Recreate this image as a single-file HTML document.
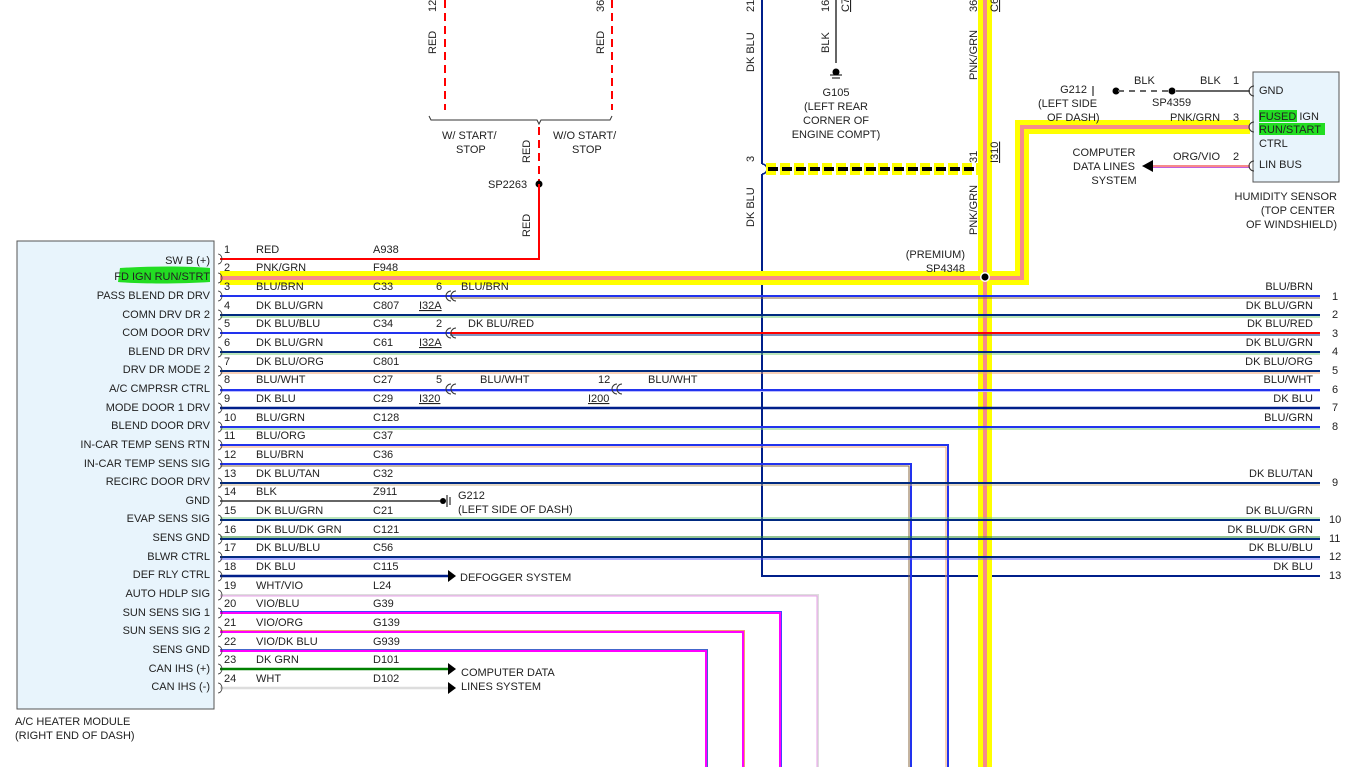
<!DOCTYPE html>
<html><head><meta charset="utf-8"><style>
html,body{margin:0;padding:0;background:#fff;}
svg{display:block;font-family:"Liberation Sans",sans-serif;font-size:11px;fill:#222;}
text{fill:#222;}
</style></head><body>
<svg width="1347" height="767" viewBox="0 0 1347 767" xmlns="http://www.w3.org/2000/svg">
<rect x="17" y="241" width="197" height="468" fill="#e8f4fc" stroke="#555" stroke-width="1"/>
<rect x="1253" y="72" width="86" height="110" fill="#e8f4fc" stroke="#555" stroke-width="1"/>

<g stroke="#f00" stroke-width="2" stroke-dasharray="8,5" fill="none">
<line x1="445" y1="0" x2="445" y2="110"/>
<line x1="612" y1="0" x2="612" y2="110"/>
<line x1="539" y1="127" x2="539" y2="184"/>
</g>
<path d="M429,116 l2,4 H537 l2,4 l2,-4 H610 l2,-4" fill="none" stroke="#333" stroke-width="1"/>
<g font-size="11">
<text x="436" y="54" transform="rotate(-90 436 54)">RED</text>
<text x="436" y="12" transform="rotate(-90 436 12)">12</text>
<text x="604" y="54" transform="rotate(-90 604 54)">RED</text>
<text x="604" y="12" transform="rotate(-90 604 12)">36</text>
<text x="442" y="139">W/ START/</text><text x="456" y="153">STOP</text>
<text x="553" y="139">W/O START/</text><text x="572" y="153">STOP</text>
<text x="530" y="163" transform="rotate(-90 530 163)">RED</text>
<text x="488" y="188">SP2263</text>
<text x="530" y="237" transform="rotate(-90 530 237)">RED</text>
</g>
<circle cx="539" cy="184" r="3.5" fill="#000"/>
<polyline points="220,259 539,259 539,184" fill="none" stroke="#f00" stroke-width="2"/>

<path d="M762,0 V164 M762,174 V576 H1320" fill="none" stroke="#001f8a" stroke-width="2"/>
<path d="M762,164 a5,5 0 0 1 0,10" fill="none" stroke="#001f8a" stroke-width="1.5"/>
<text x="754" y="72" transform="rotate(-90 754 72)">DK BLU</text>
<text x="754" y="12" transform="rotate(-90 754 12)">21</text>
<text x="754" y="162" transform="rotate(-90 754 162)">3</text>
<text x="754" y="227" transform="rotate(-90 754 227)">DK BLU</text>
<line x1="766" y1="169" x2="990" y2="169" stroke="#ffff00" stroke-width="12" stroke-dasharray="10,4"/>
<line x1="768" y1="169" x2="990" y2="169" stroke="#000" stroke-width="4" stroke-dasharray="10,4"/>

<line x1="836" y1="0" x2="836" y2="63" stroke="#666" stroke-width="2"/>
<circle cx="836" cy="72" r="3.5" fill="#000"/>
<line x1="830" y1="75" x2="842" y2="75" stroke="#000"/>
<line x1="832" y1="78" x2="840" y2="78" stroke="#000"/>
<text x="829" y="53" transform="rotate(-90 829 53)">BLK</text>
<text x="829" y="12" transform="rotate(-90 829 12)">16</text>
<text x="849" y="12" transform="rotate(-90 849 12)" text-decoration="underline">C7</text>
<g text-anchor="middle"><text x="836" y="96">G105</text><text x="836" y="110">(LEFT REAR</text><text x="836" y="124">CORNER OF</text><text x="836" y="138">ENGINE COMPT)</text></g>

<path d="M220,278 H985 M985,0 V767 M985,278 H1022 V127 H1250" fill="none" stroke="#ffff00" stroke-width="14"/>
<path d="M220,278 H985 M985,0 V767 M985,278 H1022 V127 H1250" fill="none" stroke="#f78a8a" stroke-width="4"/>
<circle cx="985" cy="277" r="5" fill="#fff"/><circle cx="985" cy="277" r="3.5" fill="#000"/>
<text x="977" y="80" transform="rotate(-90 977 80)">PNK/GRN</text>
<text x="977" y="12" transform="rotate(-90 977 12)">36</text>
<text x="998" y="12" transform="rotate(-90 998 12)" text-decoration="underline">C6</text>
<text x="977" y="163" transform="rotate(-90 977 163)">31</text>
<text x="998" y="163" transform="rotate(-90 998 163)" text-decoration="underline">I310</text>
<text x="977" y="235" transform="rotate(-90 977 235)">PNK/GRN</text>
<text x="965" y="258" text-anchor="end">(PREMIUM)</text>
<text x="965" y="272" text-anchor="end">SP4348</text>

<text x="1087" y="93" text-anchor="end">G212</text>
<line x1="1093" y1="86" x2="1093" y2="96" stroke="#000"/>
<circle cx="1116" cy="91" r="3.5" fill="#000"/>
<line x1="1118" y1="91" x2="1170" y2="91" stroke="#666" stroke-width="2" stroke-dasharray="6,5"/>
<circle cx="1172" cy="91" r="3.5" fill="#000"/>
<line x1="1176" y1="91" x2="1250" y2="91" stroke="#666" stroke-width="2"/>
<text x="1134" y="84">BLK</text><text x="1200" y="84">BLK</text><text x="1233" y="84">1</text>
<text x="1152" y="106">SP4359</text>
<text x="1038" y="107">(LEFT SIDE</text><text x="1047" y="121">OF DASH)</text>
<text x="1170" y="121">PNK/GRN</text><text x="1233" y="121">3</text>
<line x1="1152" y1="166" x2="1250" y2="166" stroke="#f78a8a" stroke-width="2"/>
<line x1="1152" y1="167.5" x2="1250" y2="167.5" stroke="#c060e0" stroke-width="1"/>
<polygon points="1142,166 1153,160 1153,172" fill="#000"/>
<text x="1173" y="160">ORG/VIO</text><text x="1233" y="160">2</text>
<g text-anchor="middle"><text x="1104" y="156">COMPUTER</text><text x="1104" y="170">DATA LINES</text><text x="1114" y="184">SYSTEM</text></g>
<rect x="1259" y="110" width="38" height="12" fill="#22dd22"/><rect x="1259" y="123" width="66" height="12" fill="#22dd22"/>
<text x="1259" y="94">GND</text><text x="1259" y="120">FUSED IGN</text><text x="1259" y="133">RUN/START</text><text x="1259" y="147">CTRL</text><text x="1259" y="168">LIN BUS</text>
<g text-anchor="end"><text x="1337" y="200">HUMIDITY SENSOR</text><text x="1335" y="214">(TOP CENTER</text><text x="1337" y="228">OF WINDSHIELD)</text></g>
<g fill="none" stroke="#333"><path d="M1254,86 a5,5 0 0 0 0,10"/><path d="M1254,122 a5,5 0 0 0 0,10"/><path d="M1254,161 a5,5 0 0 0 0,10"/></g>

<g fill="none">
<path d="M220,296 H1320" stroke="#2233ee" stroke-width="2"/><path d="M450,298 H1320" stroke="#8a6a40" stroke-width="1"/>
<path d="M220,315 H1320" stroke="#002a80" stroke-width="2"/><path d="M220,317 H1320" stroke="#7c7" stroke-width="1"/>
<path d="M220,333 H450" stroke="#2233ee" stroke-width="2"/><path d="M450,333 H1320" stroke="#f00" stroke-width="2"/><path d="M450,335 H1320" stroke="#002a80" stroke-width="1"/>
<path d="M220,352 H1320" stroke="#002a80" stroke-width="2"/><path d="M220,354 H1320" stroke="#7c7" stroke-width="1"/>
<path d="M220,371 H1320" stroke="#002a80" stroke-width="2"/><path d="M220,373 H1320" stroke="#f0a070" stroke-width="1"/>
<path d="M220,390 H1320" stroke="#2233ee" stroke-width="2"/><path d="M220,391.5 H1320" stroke="#bbf" stroke-width="1"/>
<path d="M220,408 H1320" stroke="#001f8a" stroke-width="2.5"/>
<path d="M220,427 H1320" stroke="#2233ee" stroke-width="2"/><path d="M220,429 H1320" stroke="#7c7" stroke-width="1"/>
<path d="M220,445 H948 V767" stroke="#2233ee" stroke-width="2"/><path d="M220,447 H946 V767" stroke="#f0a070" stroke-width="1"/>
<path d="M220,464 H911 V767" stroke="#2233ee" stroke-width="2"/><path d="M220,466 H909 V767" stroke="#8a6a40" stroke-width="1"/>
<path d="M220,483 H1320" stroke="#002a80" stroke-width="2"/><path d="M220,485 H1320" stroke="#c9b08a" stroke-width="1"/>
<path d="M220,501 H440" stroke="#666" stroke-width="2"/>
<path d="M220,520 H1320" stroke="#002a80" stroke-width="2"/><path d="M220,518 H1320" stroke="#7c7" stroke-width="1"/>
<path d="M220,539 H1320" stroke="#002a80" stroke-width="2"/><path d="M220,537 H1320" stroke="#2a8a2a" stroke-width="1"/>
<path d="M220,557 H1320" stroke="#002a80" stroke-width="2"/><path d="M220,559 H1320" stroke="#55f" stroke-width="1"/>
<path d="M220,576 H448" stroke="#001f8a" stroke-width="2.5"/>
<path d="M220,595 H818 V767" stroke="#ddd" stroke-width="2"/><path d="M220,596 H817 V767" stroke="#e9a0e9" stroke-width="1"/>
<path d="M220,613 H780 V767" stroke="#f0f" stroke-width="2"/><path d="M220,611.5 H781.5 V767" stroke="#44f" stroke-width="1"/>
<path d="M220,632 H743 V767" stroke="#f0f" stroke-width="2"/><path d="M220,630.5 H744.5 V767" stroke="#f0a070" stroke-width="1"/>
<path d="M220,651 H706 V767" stroke="#f0f" stroke-width="2"/><path d="M220,649.5 H707.5 V767" stroke="#4466cc" stroke-width="1"/>
<path d="M220,669 H448" stroke="#008000" stroke-width="2.5"/>
<path d="M220,688 H448" stroke="#ddd" stroke-width="2.5"/>
</g>
<g fill="none" stroke="#333" stroke-width="1">
<path d="M451,291 a5,5 0 0 0 0,10 M456,291 a5,5 0 0 0 0,10"/>
<path d="M451,328 a5,5 0 0 0 0,10 M456,328 a5,5 0 0 0 0,10"/>
<path d="M451,384 a5,5 0 0 0 0,10 M456,384 a5,5 0 0 0 0,10"/>
<path d="M617,384 a5,5 0 0 0 0,10 M622,384 a5,5 0 0 0 0,10"/>
</g>
<g fill="none" stroke="#333" stroke-width="0.8">
<path d="M218,254 a4,5 0 0 1 0,10"/><path d="M218,273 a4,5 0 0 1 0,10"/><path d="M218,291 a4,5 0 0 1 0,10"/><path d="M218,310 a4,5 0 0 1 0,10"/><path d="M218,328 a4,5 0 0 1 0,10"/><path d="M218,347 a4,5 0 0 1 0,10"/><path d="M218,366 a4,5 0 0 1 0,10"/><path d="M218,385 a4,5 0 0 1 0,10"/><path d="M218,403 a4,5 0 0 1 0,10"/><path d="M218,422 a4,5 0 0 1 0,10"/><path d="M218,440 a4,5 0 0 1 0,10"/><path d="M218,459 a4,5 0 0 1 0,10"/><path d="M218,478 a4,5 0 0 1 0,10"/><path d="M218,496 a4,5 0 0 1 0,10"/><path d="M218,515 a4,5 0 0 1 0,10"/><path d="M218,534 a4,5 0 0 1 0,10"/><path d="M218,552 a4,5 0 0 1 0,10"/><path d="M218,571 a4,5 0 0 1 0,10"/><path d="M218,590 a4,5 0 0 1 0,10"/><path d="M218,608 a4,5 0 0 1 0,10"/><path d="M218,627 a4,5 0 0 1 0,10"/><path d="M218,646 a4,5 0 0 1 0,10"/><path d="M218,664 a4,5 0 0 1 0,10"/><path d="M218,683 a4,5 0 0 1 0,10"/>
</g>
<circle cx="443" cy="501" r="3" fill="#000"/><line x1="447" y1="495" x2="447" y2="507" stroke="#000"/><line x1="450" y1="497" x2="450" y2="505" stroke="#000"/>
<text x="458" y="499">G212</text><text x="458" y="513">(LEFT SIDE OF DASH)</text>
<polygon points="448,570 456,576 448,582" fill="#000"/><text x="460" y="581">DEFOGGER SYSTEM</text>
<polygon points="448,663 456,669 448,675" fill="#000"/><polygon points="448,682 456,688 448,694" fill="#000"/>
<text x="461" y="676">COMPUTER DATA</text><text x="461" y="690">LINES SYSTEM</text>

<path d="M120,268 C150,266 190,266 210,268 L210,282 C180,284 140,284 118,282 Z" fill="#22dd22"/>

<g text-anchor="end">
<text x="210" y="264">SW B (+)</text><text x="210" y="280">FD IGN RUN/STRT</text><text x="210" y="299">PASS BLEND DR DRV</text><text x="210" y="318">COMN DRV DR 2</text><text x="210" y="336">COM DOOR DRV</text><text x="210" y="355">BLEND DR DRV</text><text x="210" y="373">DRV DR MODE 2</text><text x="210" y="392">A/C CMPRSR CTRL</text><text x="210" y="411">MODE DOOR 1 DRV</text><text x="210" y="429">BLEND DOOR DRV</text><text x="210" y="448">IN-CAR TEMP SENS RTN</text><text x="210" y="467">IN-CAR TEMP SENS SIG</text><text x="210" y="485">RECIRC DOOR DRV</text><text x="210" y="504">GND</text><text x="210" y="522">EVAP SENS SIG</text><text x="210" y="541">SENS GND</text><text x="210" y="560">BLWR CTRL</text><text x="210" y="578">DEF RLY CTRL</text><text x="210" y="597">AUTO HDLP SIG</text><text x="210" y="616">SUN SENS SIG 1</text><text x="210" y="634">SUN SENS SIG 2</text><text x="210" y="653">SENS GND</text><text x="210" y="672">CAN IHS (+)</text><text x="210" y="690">CAN IHS (-)</text>
</g>
<text x="15" y="725">A/C HEATER MODULE</text><text x="15" y="739">(RIGHT END OF DASH)</text>

<g>
<text x="224" y="253">1</text><text x="256" y="253">RED</text><text x="373" y="253">A938</text>
<text x="224" y="271">2</text><text x="256" y="271">PNK/GRN</text><text x="373" y="271">F948</text>
<text x="224" y="290">3</text><text x="256" y="290">BLU/BRN</text><text x="373" y="290">C33</text>
<text x="224" y="309">4</text><text x="256" y="309">DK BLU/GRN</text><text x="373" y="309">C807</text>
<text x="224" y="327">5</text><text x="256" y="327">DK BLU/BLU</text><text x="373" y="327">C34</text>
<text x="224" y="346">6</text><text x="256" y="346">DK BLU/GRN</text><text x="373" y="346">C61</text>
<text x="224" y="365">7</text><text x="256" y="365">DK BLU/ORG</text><text x="373" y="365">C801</text>
<text x="224" y="383">8</text><text x="256" y="383">BLU/WHT</text><text x="373" y="383">C27</text>
<text x="224" y="402">9</text><text x="256" y="402">DK BLU</text><text x="373" y="402">C29</text>
<text x="224" y="421">10</text><text x="256" y="421">BLU/GRN</text><text x="373" y="421">C128</text>
<text x="224" y="439">11</text><text x="256" y="439">BLU/ORG</text><text x="373" y="439">C37</text>
<text x="224" y="458">12</text><text x="256" y="458">BLU/BRN</text><text x="373" y="458">C36</text>
<text x="224" y="477">13</text><text x="256" y="477">DK BLU/TAN</text><text x="373" y="477">C32</text>
<text x="224" y="495">14</text><text x="256" y="495">BLK</text><text x="373" y="495">Z911</text>
<text x="224" y="514">15</text><text x="256" y="514">DK BLU/GRN</text><text x="373" y="514">C21</text>
<text x="224" y="533">16</text><text x="256" y="533">DK BLU/DK GRN</text><text x="373" y="533">C121</text>
<text x="224" y="551">17</text><text x="256" y="551">DK BLU/BLU</text><text x="373" y="551">C56</text>
<text x="224" y="570">18</text><text x="256" y="570">DK BLU</text><text x="373" y="570">C115</text>
<text x="224" y="589">19</text><text x="256" y="589">WHT/VIO</text><text x="373" y="589">L24</text>
<text x="224" y="607">20</text><text x="256" y="607">VIO/BLU</text><text x="373" y="607">G39</text>
<text x="224" y="626">21</text><text x="256" y="626">VIO/ORG</text><text x="373" y="626">G139</text>
<text x="224" y="645">22</text><text x="256" y="645">VIO/DK BLU</text><text x="373" y="645">G939</text>
<text x="224" y="663">23</text><text x="256" y="663">DK GRN</text><text x="373" y="663">D101</text>
<text x="224" y="682">24</text><text x="256" y="682">WHT</text><text x="373" y="682">D102</text>
</g>
<text x="436" y="290">6</text><text x="461" y="290">BLU/BRN</text>
<text x="419" y="309" text-decoration="underline">I32A</text>
<text x="436" y="327">2</text><text x="468" y="327">DK BLU/RED</text>
<text x="419" y="346" text-decoration="underline">I32A</text>
<text x="436" y="383">5</text><text x="480" y="383">BLU/WHT</text>
<text x="419" y="402" text-decoration="underline">I320</text>
<text x="598" y="383">12</text><text x="648" y="383">BLU/WHT</text>
<text x="588" y="402" text-decoration="underline">I200</text>

<g text-anchor="end">
<text x="1313" y="290">BLU/BRN</text><text x="1313" y="309">DK BLU/GRN</text><text x="1313" y="327">DK BLU/RED</text><text x="1313" y="346">DK BLU/GRN</text><text x="1313" y="365">DK BLU/ORG</text><text x="1313" y="383">BLU/WHT</text><text x="1313" y="402">DK BLU</text><text x="1313" y="421">BLU/GRN</text><text x="1313" y="477">DK BLU/TAN</text><text x="1313" y="514">DK BLU/GRN</text><text x="1313" y="533">DK BLU/DK GRN</text><text x="1313" y="551">DK BLU/BLU</text><text x="1313" y="570">DK BLU</text>
</g>
<g>
<text x="1332" y="300">1</text><text x="1332" y="318">2</text><text x="1332" y="337">3</text><text x="1332" y="355">4</text><text x="1332" y="374">5</text><text x="1332" y="393">6</text><text x="1332" y="411">7</text><text x="1332" y="430">8</text><text x="1332" y="486">9</text><text x="1329" y="523">10</text><text x="1329" y="542">11</text><text x="1329" y="560">12</text><text x="1329" y="579">13</text>
</g>
</svg>
</body></html>
